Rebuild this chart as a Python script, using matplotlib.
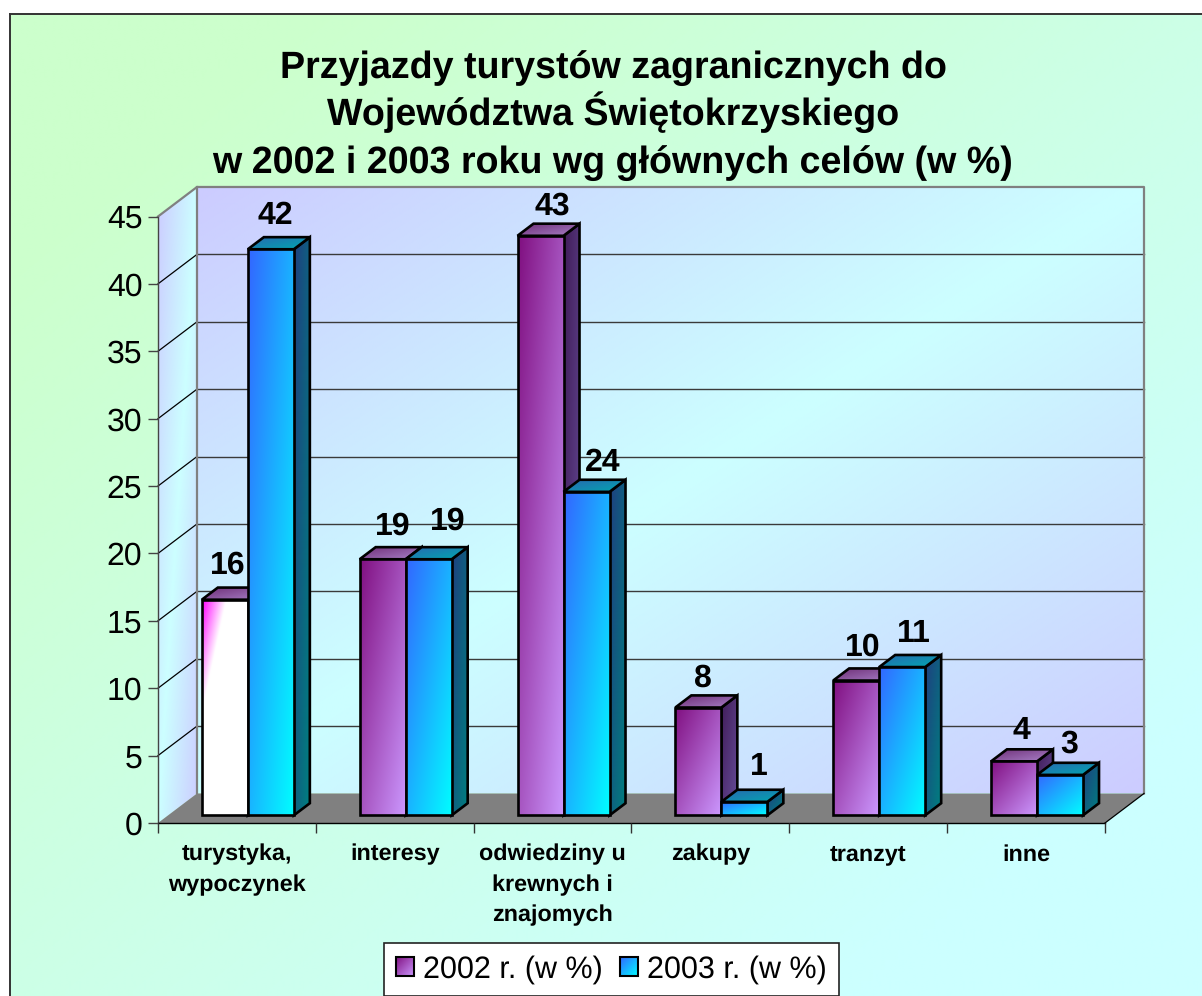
import numpy as np
import matplotlib
matplotlib.use('Agg')
import matplotlib.pyplot as plt
from matplotlib.colors import to_rgb
from matplotlib.image import BboxImage
from matplotlib.legend_handler import HandlerBase
from matplotlib.patches import Patch, Polygon, Rectangle
from matplotlib.transforms import Bbox, TransformedBbox

plt.rcParams['font.family'] = ['Liberation Sans', 'DejaVu Sans']
plt.rcParams['text.hinting'] = 'no_hinting'

# Data
title_lines = ['Przyjazdy turystów zagranicznych do', 'Województwa Świętokrzyskiego',
               'w 2002 i 2003 roku wg głównych celów (w %)']
categories = ['turystyka,\nwypoczynek', 'interesy', 'odwiedziny u\nkrewnych i\nznajomych', 'zakupy', 'tranzyt', 'inne']
values_2002 = [16, 19, 43, 8, 10, 4]
values_2003 = [42, 19, 24, 1, 11, 3]
legend_labels = ['2002 r. (w %)', '2003 r. (w %)']
y_ticks = list(range(0, 50, 5))

# label nudges in points, 2002 / 2003 per category
nudge_2002 = [(-2, 2), (3, 1), (4, -2), (-1, -2), (0, 1), (1, -1)]
nudge_2003 = [(-1, 1), (9, 4), (7, -2), (6, 2), (4, 1), (2, -1)]

W, H = 1202, 996
DPI = 100

# Depth of the fake 3D box, in data units per full depth (z=1)
DX = 39 / 157.83
DY = 29.5 / 13.47
BAR_W = 0.2915
BAR_SHIFT = 0.005
Z0, Z1 = 0.26, 0.67

PURPLE = {'front': [(0, '#800f80'), (1, '#cc99ff')],
          'side': [(0, '#401c58'), (1, '#664c99')],
          'top': [(0, '#6c2c74'), (1, '#a880c8')]}
BLUE = {'front': [(0, '#3366ff'), (1, '#00ffff')],
        'side': [(0, '#1f3f80'), (1, '#008080')],
        'top': [(0, '#2a66b0'), (1, '#00a8b0')]}
PINK_FRONT = [(0, '#ff00ff'), (0.26, '#ffffff'), (1, '#ffffff')]
WALL = [(0, '#ccccff'), (0.5, '#ccffff'), (1, '#ccccff')]
BACKGROUND = [(0, '#ccffcc'), (0.12, '#ccffcc'), (0.85, '#ccffff'), (1, '#ccffff')]


def ramp(stops, n=96):
    # diagonal gradient, top left to bottom right
    u, v = np.meshgrid(np.linspace(0, 1, n), np.linspace(0, 1, n))
    t = (u + v) / 2
    pos = [s[0] for s in stops]
    cols = np.array([to_rgb(s[1]) for s in stops])
    return np.dstack([np.interp(t, pos, cols[:, k]) for k in range(3)])


def pxbox(x0, y0, x1, y1):
    return [x0 / W, 1 - y1 / H, (x1 - x0) / W, (y1 - y0) / H]


def proj(x, v, z):
    return (x + z * DX, v + z * DY)


def face(ax, pts, stops, edge='k', lw=1.9, z=2):
    pts = np.array(pts)
    extent = (pts[:, 0].min(), pts[:, 0].max(), pts[:, 1].min(), pts[:, 1].max())
    im = ax.imshow(ramp(stops), extent=extent, aspect='auto', origin='upper',
                   interpolation='bilinear', zorder=z)
    poly = Polygon(pts, closed=True, transform=ax.transData, fc='none', ec='none')
    im.set_clip_box(ax.figure.bbox)
    im.set_clip_path(poly)
    if edge is not None:
        ax.add_patch(Polygon(pts, closed=True, fc='none', ec=edge, lw=lw, zorder=z,
                             clip_on=False, joinstyle='miter'))


def bar3d(ax, x, value, colors, z, front=None):
    x0, x1 = x, x + BAR_W
    a = proj(x0, 0, Z0)
    b = proj(x1, 0, Z0)
    c = proj(x1, value, Z0)
    d = proj(x0, value, Z0)
    e = proj(x1, 0, Z1)
    f = proj(x1, value, Z1)
    g = proj(x0, value, Z1)
    face(ax, [b, e, f, c], colors['side'], z=z)
    face(ax, [d, c, f, g], colors['top'], z=z)
    face(ax, [a, b, c, d], front or colors['front'], z=z)


class GradientHandler(HandlerBase):
    def __init__(self, stops):
        super().__init__()
        self.stops = stops

    def create_artists(self, legend, orig_handle, xdescent, ydescent, width, height, fontsize, trans):
        box = Bbox([[-xdescent, -ydescent], [-xdescent + width, -ydescent + height]])
        img = BboxImage(TransformedBbox(box, trans), interpolation='bilinear')
        img.set_data(ramp(self.stops, 32))
        rect = Rectangle((-xdescent, -ydescent), width, height, fc='none', ec='k', lw=1.5)
        return [img, rect]


fig = plt.figure(figsize=(W / DPI, H / DPI), dpi=DPI, facecolor='white')

# Background panel
bg = fig.add_axes(pxbox(10, 14, W, H), zorder=0)
bg.imshow(ramp(BACKGROUND), aspect='auto', interpolation='bilinear')
bg.set_xticks([])
bg.set_yticks([])
for side in ['right', 'bottom']:
    bg.spines[side].set_visible(False)
for side in ['left', 'top']:
    bg.spines[side].set_color('#333333')
    bg.spines[side].set_linewidth(1.4)

# Main axes sit on the front plane of the box
ax = fig.add_axes(pxbox(158, 216.5, 1105, 823), zorder=1)
ax.patch.set_visible(False)
x_lo, x_hi = -0.5, len(categories) - 0.5
y_hi = y_ticks[-1]

# Walls and floor
face(ax, [proj(x_lo, 0, 1), proj(x_hi, 0, 1), proj(x_hi, y_hi, 1), proj(x_lo, y_hi, 1)], WALL, edge=None, z=0.5)
face(ax, [proj(x_lo, 0, 0), proj(x_lo, 0, 1), proj(x_lo, y_hi, 1), proj(x_lo, y_hi, 0)], WALL, edge=None, z=0.5)
ax.add_patch(Polygon([proj(x_lo, 0, 0), proj(x_hi, 0, 0), proj(x_hi, 0, 1), proj(x_lo, 0, 1)],
                     closed=True, fc='#808080', ec='none', zorder=0.6, clip_on=False))

# Gridlines on back and side wall
for v in y_ticks[1:-1]:
    xa, ya = zip(proj(x_lo, v, 1), proj(x_hi, v, 1))
    ax.plot(xa, ya, color='#3a3a3a', lw=1.0, zorder=0.7, clip_on=False)
    xb, yb = zip(proj(x_lo, v, 0), proj(x_lo, v, 1))
    ax.plot(xb, yb, color='k', lw=0.9, zorder=0.7, clip_on=False)

# Wall outline
outline = [proj(x_lo, y_hi, 0), proj(x_lo, y_hi, 1), proj(x_hi, y_hi, 1), proj(x_hi, 0, 1)]
ax.plot(*zip(*outline), color='#808080', lw=1.6, zorder=0.8, clip_on=False)
ax.plot(*zip(proj(x_lo, 0, 1), proj(x_lo, y_hi, 1)), color='#808080', lw=1.6, zorder=0.8, clip_on=False)
ax.plot(*zip(proj(x_hi, 0, 0), proj(x_hi, 0, 1)), color='k', lw=0.9, zorder=0.8, clip_on=False)

# Bars
for i, (a, b) in enumerate(zip(values_2002, values_2003)):
    front = PINK_FRONT if i == 0 else None
    bar3d(ax, i - BAR_W + BAR_SHIFT, a, PURPLE, 2 + i * 0.1, front=front)
    bar3d(ax, i + BAR_SHIFT, b, BLUE, 2.05 + i * 0.1)

# Value labels
for i, (a, b) in enumerate(zip(values_2002, values_2003)):
    for x, v, (nx, ny) in [(i - BAR_W / 2, a, nudge_2002[i]), (i + BAR_W / 2, b, nudge_2003[i])]:
        px, py = proj(x, v, Z0)
        ax.annotate(str(v), (px, py), xytext=(5 + nx, 23 + ny), textcoords='offset points', ha='center', va='center',
                    fontsize=23, fontweight='bold', color='k', zorder=5, annotation_clip=False)

ax.set_xlim(x_lo, x_hi)
ax.set_ylim(0, y_hi)
ax.set_yticks(y_ticks)
ax.set_xticks(range(len(categories)))
ax.set_xticklabels(categories, fontsize=16.8, fontweight='bold', linespacing=1.55)
ax.set_xticks(np.arange(x_lo, x_hi + 1), minor=True)
ax.tick_params(axis='x', which='major', length=0, pad=15)
ax.tick_params(axis='x', which='minor', length=7, width=1, color='#333333', direction='out')
ax.tick_params(axis='y', length=7.2, width=1, color='#444444', labelsize=23, pad=4)
ax.spines['top'].set_visible(False)
ax.spines['right'].set_visible(False)
ax.spines['left'].set_color('#444444')
for side in ['left', 'bottom']:
    ax.spines[side].set_linewidth(1)
    ax.spines[side].set_zorder(1)

# Title, one baseline per line
for line, base in zip(title_lines, [78, 125, 173]):
    fig.text(613 / W, 1 - base / H, line, ha='center', va='baseline', fontsize=27.1, fontweight='bold', color='k')

# Legend
handles = [Patch(label=legend_labels[0]), Patch(label=legend_labels[1])]
leg = fig.legend(handles=handles, loc='center', bbox_to_anchor=(611.5 / W, 1 - 969.5 / H), ncols=2,
                 fontsize=22, frameon=True, fancybox=False, framealpha=1, facecolor='white',
                 edgecolor='#222222', handlelength=0.6, handleheight=0.6, handletextpad=0.3,
                 columnspacing=0.55, borderpad=0.38, borderaxespad=0,
                 handler_map={handles[0]: GradientHandler(PURPLE['front']),
                              handles[1]: GradientHandler(BLUE['front'])})
leg.set_zorder(3)
leg.get_frame().set_linewidth(1.2)

fig.savefig('out.png', dpi=DPI)
